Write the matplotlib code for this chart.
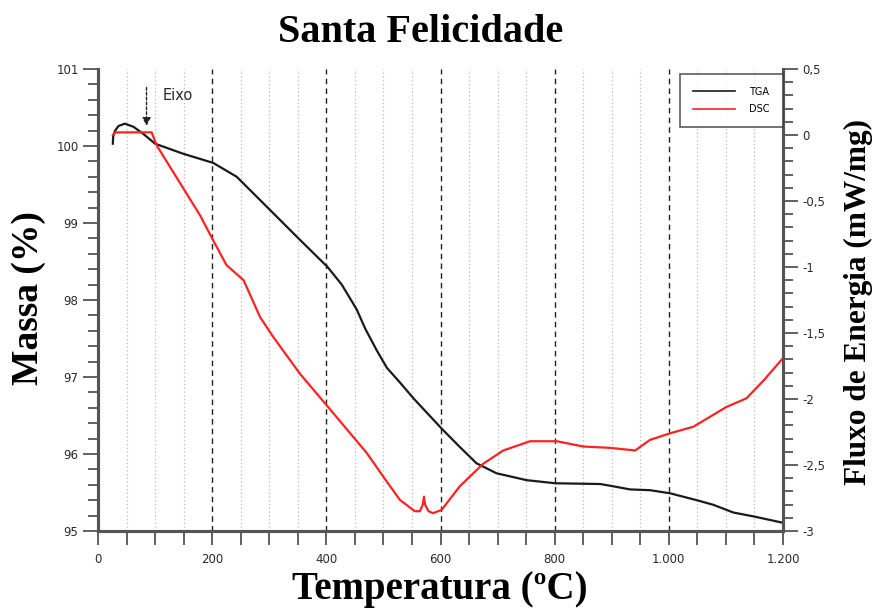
import matplotlib
matplotlib.use("Agg")
import matplotlib.pyplot as plt
from matplotlib.ticker import MultipleLocator, FixedLocator

# ---------------- data ----------------
tga_T = [26, 26.5, 30, 36, 47, 62, 79, 100, 149, 202, 243, 304, 354, 402, 427, 453, 468,
         488, 506, 530, 553, 602, 634, 663, 698, 751, 801, 880, 903, 932, 967,
         1002, 1049, 1078, 1113, 1148, 1198]
tga_m = [100.03, 100.12, 100.20, 100.26, 100.29, 100.25, 100.16, 100.03, 99.90, 99.78,
         99.60, 99.15, 98.78, 98.43, 98.20, 97.88, 97.63, 97.35, 97.12, 96.92, 96.72, 96.33,
         96.09, 95.88, 95.75, 95.66, 95.62, 95.61, 95.58, 95.54, 95.53, 95.49, 95.40,
         95.34, 95.24, 95.19, 95.11]

dsc_T = [26, 30, 94, 103, 179, 202, 225, 255, 284, 307, 354, 403, 436, 471, 500, 529,
         555, 564, 569, 571, 573, 579, 587, 602, 634, 675, 710, 757, 804, 850, 897,
         941, 967, 1002, 1043, 1101, 1136, 1166, 1198]
dsc_v = [0.00, 0.02, 0.02, -0.08, -0.61, -0.80, -0.985, -1.10, -1.38, -1.53, -1.81,
         -2.06, -2.23, -2.41, -2.59, -2.765, -2.85, -2.85, -2.80, -2.74, -2.80, -2.85,
         -2.865, -2.84, -2.66, -2.49, -2.39, -2.32, -2.32, -2.36, -2.37, -2.39, -2.31,
         -2.26, -2.21, -2.06, -1.995, -1.86, -1.70]

x_major = [0, 200, 400, 600, 800, 1000, 1200]
x_labels = ["0", "200", "400", "600", "800", "1.000", "1.200"]
left_ticks = [95, 96, 97, 98, 99, 100, 101]
right_ticks = [-3, -2.5, -2, -1.5, -1, -0.5, 0, 0.5]
right_labels = ["-3", "-2,5", "-2", "-1,5", "-1", "-0,5", "0", "0,5"]

title = "Santa Felicidade"
xlabel = "Temperatura (ºC)"
ylabel_left = "Massa (%)"
ylabel_right = "Fluxo de Energia (mW/mg)"
annot_text = "Eixo"
annot_T = 85

# ---------------- figure ----------------
W, H = 873, 612
fig = plt.figure(figsize=(W / 100, H / 100), dpi=100)
L, R, B, T = 98 / W, 783 / W, (H - 531) / H, (H - 69) / H
ax = fig.add_axes([L, B, R - L, T - B])
ax2 = ax.twinx()

spine_col = "#555555"
tick_col = "#2a2a2a"
serif = ["Liberation Serif", "DejaVu Serif"]

# grid lines
for xv in range(50, 1200, 50):
    if xv % 200 == 0:
        ax.axvline(xv, color="#222222", lw=1.0, ls=(0, (4, 3)), zorder=1)
    else:
        ax.axvline(xv, color="#bbbbbb", lw=0.9, ls=(0, (1, 2)), zorder=1)

ax.plot(tga_T, tga_m, color="#1a1a1a", lw=1.6, zorder=3, label="TGA")
ax2.plot(dsc_T, dsc_v, color="#ff2222", lw=1.6, zorder=3, label="DSC")

ax.set_xlim(0, 1200)
ax.set_ylim(95, 101)
ax2.set_ylim(-3, 0.5)

# spines
for a in (ax, ax2):
    a.spines["top"].set_visible(False)
    for s in ("left", "right", "bottom"):
        a.spines[s].set_color(spine_col)
        a.spines[s].set_linewidth(2.2)

# x ticks
ax.xaxis.set_major_locator(FixedLocator(x_major))
ax.set_xticklabels(x_labels)
ax.xaxis.set_minor_locator(MultipleLocator(50))
ax.tick_params(axis="x", which="both", direction="out", length=10, width=1.3,
               color=spine_col, labelsize=8.5, labelcolor=tick_col, pad=6)

# left y ticks
ax.yaxis.set_major_locator(FixedLocator(left_ticks))
ax.set_yticklabels([str(v) for v in left_ticks])
ax.yaxis.set_minor_locator(MultipleLocator(0.2))
ax.tick_params(axis="y", which="major", direction="out", length=11, width=1.3,
               color=spine_col, labelsize=8.5, labelcolor=tick_col, pad=3)
ax.tick_params(axis="y", which="minor", direction="out", length=7, width=1.3,
               color=spine_col)

# right y ticks
ax2.yaxis.set_major_locator(FixedLocator(right_ticks))
ax2.set_yticklabels(right_labels)
ax2.yaxis.set_minor_locator(MultipleLocator(0.1))
ax2.tick_params(axis="y", which="major", direction="out", length=11, width=1.3,
                color=spine_col, labelsize=8.5, labelcolor=tick_col, pad=3)
ax2.tick_params(axis="y", which="minor", direction="out", length=7, width=1.3,
                color=spine_col)

# labels
fig.text(0.482, 1 - 33 / H, title, ha="center", va="center", fontsize=29,
         fontweight="bold", family=serif)
fig.text(440 / W, 1 - 589 / H, xlabel, ha="center", va="center", fontsize=28,
         fontweight="bold", family=serif)
fig.text(29 / W, 1 - 298 / H, ylabel_left, ha="center", va="center", fontsize=27,
         fontweight="bold", family=serif, rotation=90)
fig.text(858 / W, 1 - 302 / H, ylabel_right, ha="center", va="center", fontsize=22.5,
         fontweight="bold", family=serif, rotation=90)

# annotation arrow "Eixo"
ax.annotate("", xy=(annot_T, 100.26), xytext=(annot_T, 100.76),
            arrowprops=dict(arrowstyle="-|>", color="#222222", lw=1.0,
                            ls=(0, (2, 1.5)), mutation_scale=12,
                            shrinkA=0, shrinkB=0), zorder=4)
ax.text(annot_T + 28, 100.65, annot_text, fontsize=10.5, color=tick_col,
        ha="left", va="center")

# legend
h1, l1 = ax.get_legend_handles_labels()
h2, l2 = ax2.get_legend_handles_labels()
leg = ax2.legend(h1 + h2, l1 + l2, loc="upper right", bbox_to_anchor=(1.0, 0.99),
                 borderaxespad=0, fontsize=7, frameon=True, fancybox=False,
                 handlelength=4.3, handletextpad=1.5, borderpad=1.35,
                 labelspacing=0.75)
leg.get_frame().set_edgecolor("#333333")
leg.get_frame().set_linewidth(1.2)
for line in leg.get_lines():
    line.set_linewidth(1.2)

fig.savefig("out.png", dpi=100)
